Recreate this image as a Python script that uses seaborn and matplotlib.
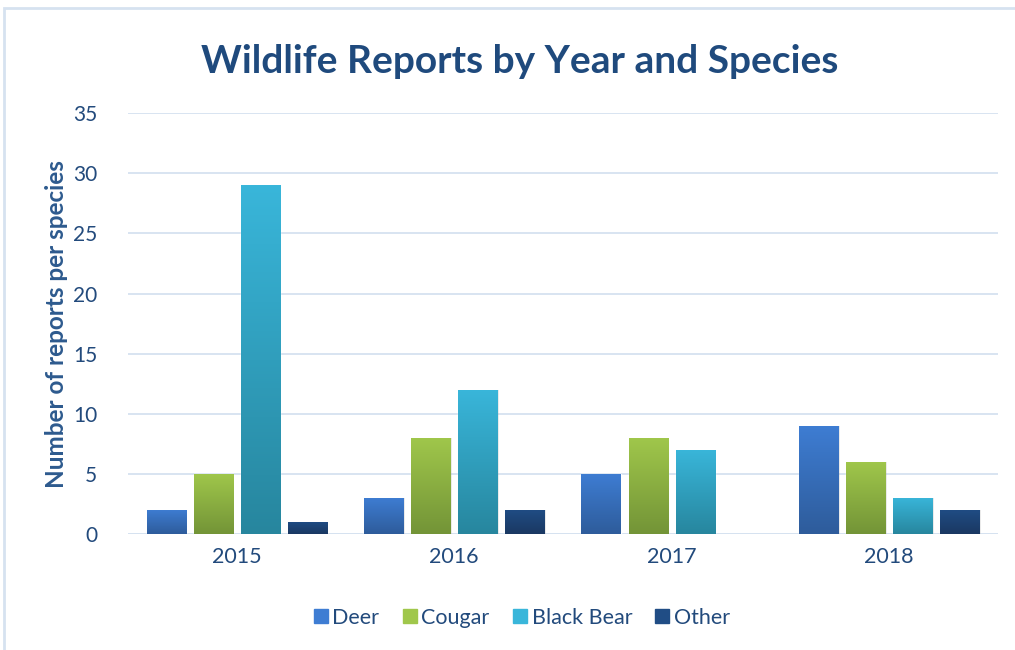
import numpy as np
import pandas as pd
import matplotlib
matplotlib.use("Agg")
import matplotlib.pyplot as plt
import seaborn as sns
from matplotlib.colors import LinearSegmentedColormap
from matplotlib.patches import Rectangle
from matplotlib.lines import Line2D

years = ["2015", "2016", "2017", "2018"]
species = ["Deer", "Cougar", "Black Bear", "Other"]
deer = [2, 3, 5, 9]
cougar = [5, 8, 8, 6]
black_bear = [29, 12, 7, 3]
other = [1, 2, 0, 2]

top_colors = ["#3e7dd3", "#a0c74b", "#39b6da", "#204d85"]
bot_colors = ["#2e5c9b", "#739437", "#27869e", "#1a3862"]
text_color = "#224a7c"

df = pd.DataFrame({
    "Year": years * 4,
    "Species": sum([[s] * 4 for s in species], []),
    "Reports": deer + cougar + black_bear + other,
})

sns.set_theme(style="white")
plt.rcParams['font.family'] = ['Lato', 'DejaVu Sans']

fig = plt.figure(figsize=(10.15, 6.5), dpi=100)
ax = fig.add_axes([0.126, 0.178, 0.857, 0.648])

sns.barplot(data=df, x="Year", y="Reports", hue="Species", order=years,
            hue_order=species, palette=top_colors, width=0.865, gap=0.17,
            ax=ax, legend=False, zorder=3)

ax.set_ylim(0, 35)
ax.set_yticks(range(0, 36, 5))
ax.set_xlim(-0.5, 3.5)
ax.grid(axis="y", color="#d6e2f0", linewidth=1.3, zorder=0)
ax.set_axisbelow(True)
for s in ax.spines.values():
    s.set_visible(False)
ax.axhline(0, color="#d6e2f0", linewidth=1.3, zorder=1)

ax.tick_params(axis="both", length=0, labelcolor=text_color)
ax.tick_params(axis="x", labelsize=15.5, pad=9)
ax.tick_params(axis="y", labelsize=15, pad=22)
ax.set_xlabel("")
ax.set_ylabel("Number of reports per species", fontsize=17.5, fontweight="bold",
              color="#2d5a8e", labelpad=4)

# gradient fills
for i, cont in enumerate(ax.containers):
    cmap = LinearSegmentedColormap.from_list(f"g{i}", [bot_colors[i], top_colors[i]])
    for bar in cont:
        h = bar.get_height()
        if h <= 0:
            bar.set_visible(False)
            continue
        x0, w = bar.get_x(), bar.get_width()
        sh = Rectangle((x0 + 0.008, 0), w, h, facecolor="#000000", alpha=0.10,
                       edgecolor="none", zorder=2)
        ax.add_patch(sh)
        grad = np.linspace(0, 1, 256).reshape(-1, 1)
        im = ax.imshow(grad, cmap=cmap, origin="lower", aspect="auto",
                       extent=[x0, x0 + w, 0, h], zorder=4)
        im.set_clip_path(bar)
ax.set_xlim(-0.5, 3.5)
ax.set_ylim(0, 35)

fig.text(0.512, 0.905, "Wildlife Reports by Year and Species", ha="center", va="center",
         fontsize=28, fontweight="bold", color="#1f4a7d")

handles = [Line2D([0], [0], marker="s", linestyle="none", markersize=10.5,
                  markerfacecolor=c, markeredgecolor=c) for c in top_colors]
fig.legend(handles, species, loc="center", bbox_to_anchor=(0.513, 0.05), ncol=4,
           frameon=False, fontsize=15.5, labelcolor=text_color, handletextpad=0.1,
           columnspacing=0.95, handlelength=0.9)

fig.add_artist(Rectangle((0.004, -0.1), 1.2, 1.087, transform=fig.transFigure,
                         fill=False, edgecolor="#d6e2f0", linewidth=2))

fig.savefig("out.png", dpi=100)
